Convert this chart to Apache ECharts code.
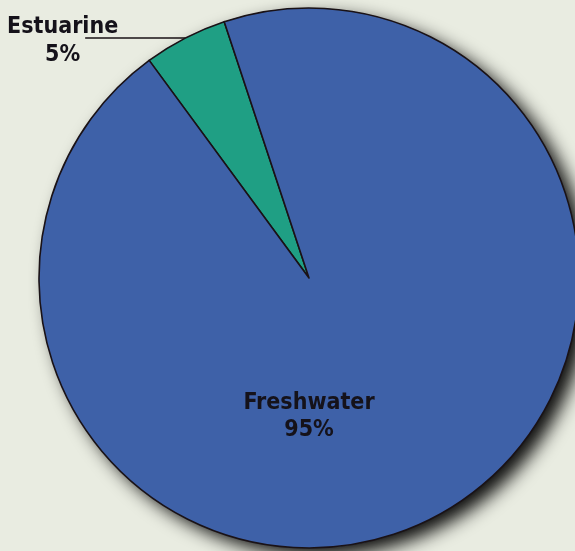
<!DOCTYPE html>
<html>
<head>
<meta charset="utf-8">
<script src="https://cdn.jsdelivr.net/npm/echarts@6/dist/echarts.min.js"></script>
<style>
html,body{margin:0;padding:0;background:#e9ece1;}
#chart{width:575px;height:551px;}
</style>
</head>
<body>
<div id="chart"></div>
<script>
var categories = ['Estuarine', 'Freshwater'];
var values = [5, 95];
var colors = ['#1f9f84', '#3e61a8'];

var chart = echarts.init(document.getElementById('chart'));
var FONT = '"Liberation Sans Narrow", "DejaVu Sans Condensed", "Arial Narrow", sans-serif';

var data = categories.map(function (c, i) {
  return { name: c, value: values[i], itemStyle: { color: colors[i] } };
});
data[1].label = {
  position: 'center',
  formatter: '{a|{b}}\n{a|{d}%}',
  rich: { a: { fontFamily: FONT, fontWeight: 'bold', fontSize: 23, lineHeight: 27, color: '#15121a', align: 'center' } }
};
data[1].labelLine = { show: false };

var option = {
  backgroundColor: '#e9ece1',
  animation: false,
  series: [
    {
      type: 'pie',
      silent: true,
      z: 1,
      center: [309, 278],
      radius: 270,
      label: { show: false },
      labelLine: { show: false },
      itemStyle: {
        color: '#3e61a8',
        shadowBlur: 18,
        shadowColor: 'rgba(0,0,0,0.95)',
        shadowOffsetX: 10,
        shadowOffsetY: 8
      },
      data: [{ name: 'shadow', value: 1 }]
    },
    {
      type: 'pie',
      z: 2,
      center: [309, 278],
      radius: 270,
      startAngle: 126.3,
      clockwise: true,
      avoidLabelOverlap: false,
      itemStyle: { borderColor: '#1a1216', borderWidth: 1.6 },
      label: {
        show: true,
        position: 'outside',
        bleedMargin: 0,
        overflow: 'none',
        distanceToLabelLine: -30,
        formatter: '{a|{b}}\n{a|{d}%}',
        rich: {
          a: { fontFamily: FONT, fontWeight: 'bold', fontSize: 23, lineHeight: 28, color: '#15121a', width: 105, align: 'center' }
        }
      },
      labelLine: {
        show: true,
        length: 0.01,
        length2: 100,
        lineStyle: { color: '#1a1216', width: 1.5 }
      },
      labelLayout: function (params) {
        if (params.dataIndex === 1) {
          return { dy: 139 };
        }
        return { dy: 3 };
      },
      data: data
    }
  ]
};
chart.setOption(option);
</script>
</body>
</html>
